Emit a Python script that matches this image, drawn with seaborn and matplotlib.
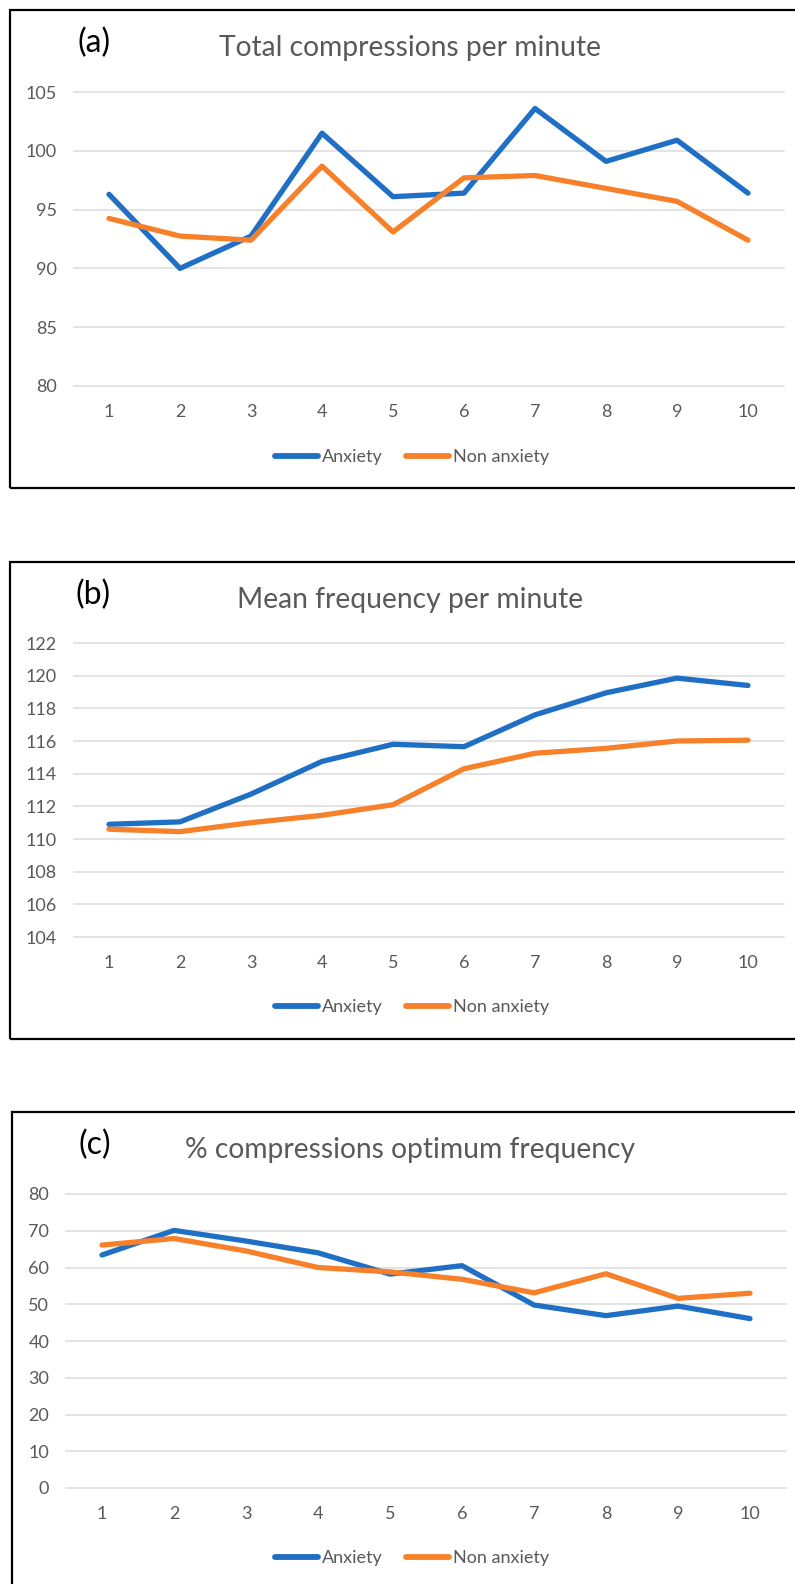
import pandas as pd
import numpy as np
import matplotlib
matplotlib.use("Agg")
import matplotlib.pyplot as plt
import seaborn as sns
from matplotlib.patches import Rectangle

minutes = list(range(1, 11))
groups = ["Anxiety", "Non anxiety"]

total_anx = [96.3, 90.0, 92.75, 101.5, 96.1, 96.4, 103.6, 99.1, 100.9, 96.4]
total_non = [94.25, 92.75, 92.4, 98.7, 93.1, 97.7, 97.9, 96.8, 95.7, 92.4]

freq_anx = [110.9, 111.05, 112.75, 114.75, 115.8, 115.65, 117.6, 118.95, 119.85, 119.4]
freq_non = [110.6, 110.45, 111.0, 111.45, 112.1, 114.3, 115.25, 115.55, 116.0, 116.05]

opt_anx = [63.4, 70.1, 67.2, 64.0, 58.2, 60.5, 49.8, 46.9, 49.5, 46.1]
opt_non = [66.1, 67.9, 64.5, 60.0, 58.8, 56.8, 53.1, 58.3, 51.6, 53.0]

titles = ["Total compressions per minute", "Mean frequency per minute",
          "% compressions optimum frequency"]
letters = ["(a)", "(b)", "(c)"]

sns.set_theme(style="white")
plt.rcParams['font.family'] = ['Lato', 'DejaVu Sans']

W, H = 795, 1584
fig = plt.figure(figsize=(W / 100, H / 100), dpi=100)

grey = "#595959"
colors = {"Anxiety": "#1f6fc5", "Non anxiety": "#f7812a"}


def long_df(a, b):
    return pd.DataFrame({
        "Minute": minutes * 2,
        "Value": a + b,
        "Group": [groups[0]] * 10 + [groups[1]] * 10,
    })


# panel settings: box left/top/bottom, axes left/right/top/bottom, title y, legend y (pixels)
panels = [
    dict(data=(total_anx, total_non), ylim=(80, 105), step=5, box=(10, 10, 488), ax=(73.5, 783.5, 92, 386),
         ty=48, ly=457, lx=94),
    dict(data=(freq_anx, freq_non), ylim=(104, 122), step=2, box=(10, 562, 1039), ax=(73.5, 783.5, 643, 937),
         ty=600, ly=1007, lx=93),
    dict(data=(opt_anx, opt_non), ylim=(0, 80), step=10, box=(12, 1112, 1600), ax=(66, 786, 1194, 1488),
         ty=1150, ly=1558, lx=95),
]

for i, p in enumerate(panels):
    bx, btop, bbot = p["box"]
    fig.patches.append(Rectangle((bx / W, 1 - bbot / H), (W + 20 - bx) / W, (bbot - btop) / H,
                                 transform=fig.transFigure, fill=False, edgecolor="black", linewidth=1.6))

    left, right, top, bottom = p["ax"]
    ax = fig.add_axes([left / W, 1 - bottom / H, (right - left) / W, (bottom - top) / H])
    df = long_df(*p["data"])
    sns.lineplot(data=df, x="Minute", y="Value", hue="Group", palette=colors, linewidth=3.8, ax=ax,
                 legend=False)
    ax.set_xlim(0.5, 10.5)
    ax.set_ylim(*p["ylim"])
    ax.set_xticks(minutes)
    ax.set_yticks(np.arange(p["ylim"][0], p["ylim"][1] + 0.1, p["step"]))
    ax.yaxis.grid(True, color="#e3e3e3", linewidth=1.4)
    for gl in ax.get_ygridlines():
        gl.set_clip_on(False)
    ax.set_axisbelow(True)
    for s in ax.spines.values():
        s.set_visible(False)
    ax.tick_params(axis="both", length=0, labelsize=13, colors=grey)
    ax.tick_params(axis="y", pad=12)
    ax.tick_params(axis="x", pad=13)
    ax.set_xlabel("")
    ax.set_ylabel("")
    ax.set_facecolor("none")

    fig.text(410 / W, 1 - p["ty"] / H, titles[i], ha="center", va="center", fontsize=20.3, color=grey)
    fig.text(p["lx"] / W, 1 - (p["ty"] - 5) / H, letters[i], ha="center", va="center", fontsize=23,
             color="black")

    handles = [plt.Line2D([], [], color=colors[g], linewidth=4.2) for g in groups]
    fig.legend(handles, groups, loc="center", bbox_to_anchor=(412 / W, 1 - p["ly"] / H), ncol=2,
               frameon=False, fontsize=13, labelcolor=grey, handlelength=2.4, handletextpad=0.2,
               columnspacing=1.3)

fig.savefig("out.png", dpi=100, facecolor="white")
